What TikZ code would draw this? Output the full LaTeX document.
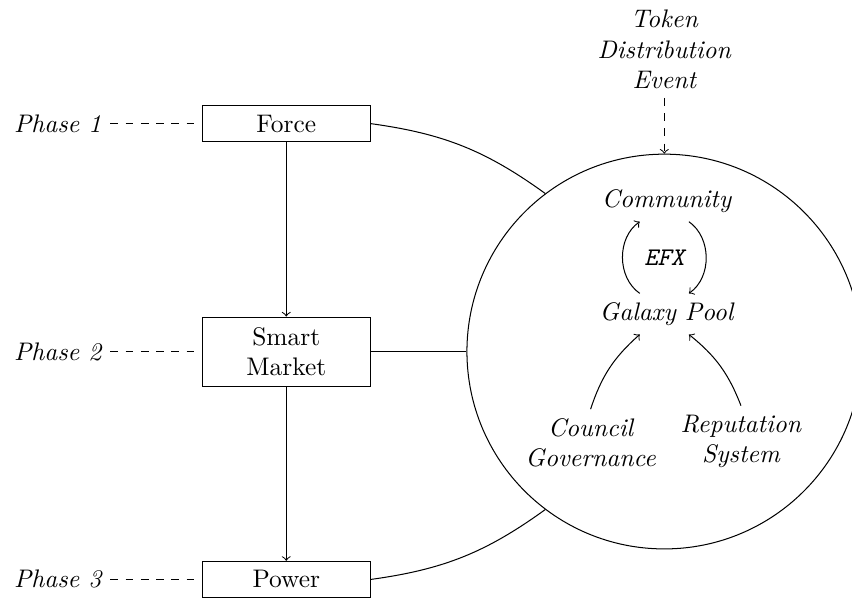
\documentclass[tikz,border=0pt]{standalone}
\usepackage{tikz}
\usetikzlibrary{positioning}

\begin{document}
\begin{tikzpicture}[
        % Define styles for the parts of the roadmap
        box/.style={
            draw,
            rectangle,
            minimum width=2.33cm,
            minimum height=0.5cm,
            align=center
        },
        stage/.style={
            font=\itshape
        },
        element/.style={
            font=\itshape,
            align=center
        },
        hub/.style={
            draw,
            circle,
            minimum size=5.46cm,
            inner sep=0pt
        },
        link/.style={
            dashed
        },
        arrow/.style={
            ->
        }
    ]

    \useasboundingbox (0,0) rectangle (11.784,-8.285);

    % Place the three phase boxes
    \node[box, minimum height=0.955cm] (smart) at (3.959,-4.862) {Smart\\Market};
    \node[box, above=2.41cm of smart] (force) {Force};
    \node[box, below=2.41cm of smart] (power) {Power};

    % Place the phase labels
    \node[stage, left=1.26cm of force] (phase1) {Phase 1};
    \node[stage, left=1.26cm of smart] (phase2) {Phase 2};
    \node[stage, left=1.26cm of power] (phase3) {Phase 3};

    % Place the ecosystem circle and its parts
    \node[hub, right=1.32cm of smart] (circ) {};
    \node[element, above=0.77cm of circ] (token) {Token\\Distribution\\Event};
    \node[element] (community) at ([xshift=0.03cm,yshift=2.08cm]circ.center) {Community};
    \node (efx) at ([yshift=1.30cm]circ.center) {\ttfamily\itshape EFX};
    \node[element] (galaxy) at ([xshift=0.03cm,yshift=0.52cm]circ.center) {Galaxy Pool};
    \node[element] (council) at ([xshift=-1.02cm,yshift=-1.26cm]circ.center) {Council\\Governance};
    \node[element] (reputation) at ([xshift=1.06cm,yshift=-1.24cm]circ.center) {Reputation\\System};

    % Draw connections
    \draw[link] (phase1) -- (force);
    \draw[link] (phase2) -- (smart);
    \draw[link] (phase3) -- (power);
    \draw[arrow] (force) -- (smart);
    \draw[arrow] (smart) -- (power);
    \draw (force.east) to[bend left=14] (circ.127);
    \draw (smart) -- (circ);
    \draw (power.east) to[bend right=14] (circ.233);
    \draw[link, arrow] (token) -- (circ);

    % Draw the EFX cycle and its inputs
    \draw[arrow] ([xshift=-0.37cm]galaxy.north) to[bend left=55] ([xshift=-0.37cm]community.south);
    \draw[arrow] ([xshift=0.31cm]community.south) to[bend left=55] ([xshift=0.31cm]galaxy.north);
    \draw[arrow] (council.north) to[bend left=15] ([xshift=-0.37cm]galaxy.south);
    \draw[arrow] (reputation.north) to[bend right=15] ([xshift=0.31cm]galaxy.south);

\end{tikzpicture}
\end{document}
